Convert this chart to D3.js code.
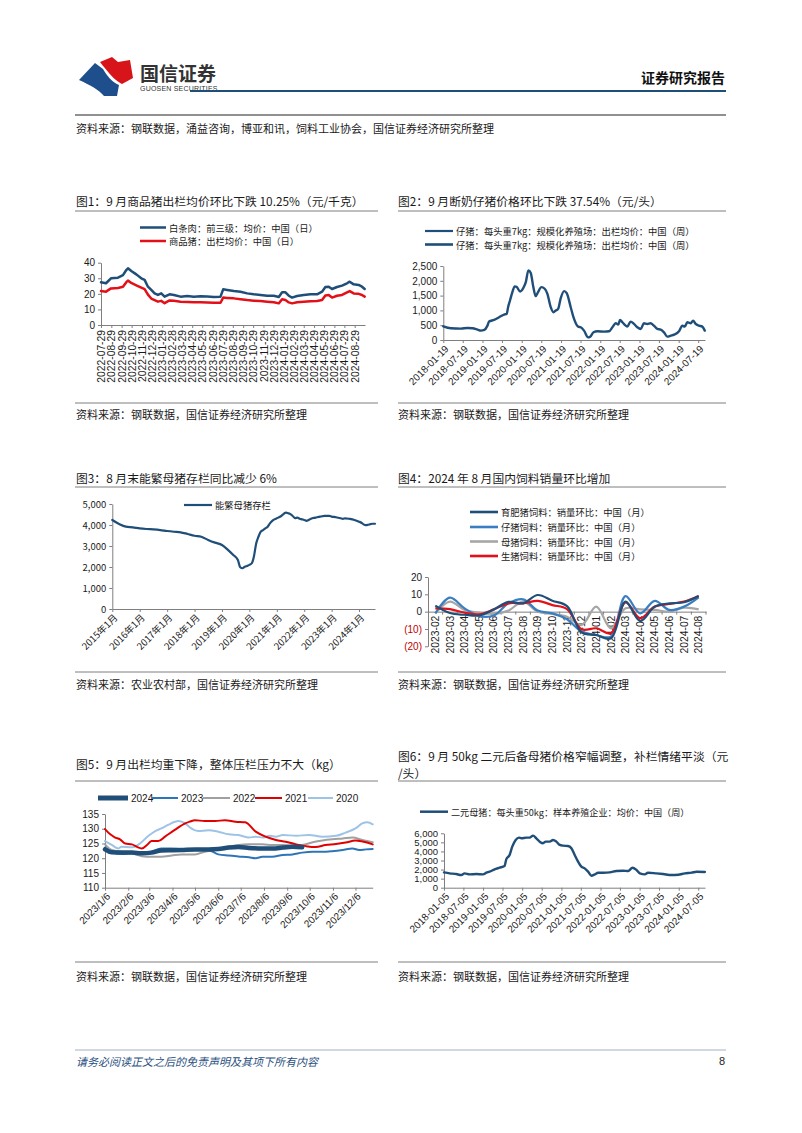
<!DOCTYPE html>
<html><head><meta charset="utf-8">
<script src="https://cdn.jsdelivr.net/npm/d3@7"></script>
<style>body{margin:0;background:#fff}svg{display:block}</style>
</head><body>
<svg id="page" width="802" height="1133"></svg>
<script>
// ---------- DATA ----------
// Chart 1: 白条肉 / 商品猪 (元/千克)
const c1Dates = ["2022-07-29","2022-08-13","2022-08-28","2022-09-18","2022-10-03","2022-10-13","2022-10-18","2022-10-28","2022-11-12","2022-11-27","2022-12-07","2022-12-17","2022-12-27","2023-01-06","2023-01-16","2023-01-26","2023-02-05","2023-02-20","2023-03-05","2023-03-25","2023-04-14","2023-05-04","2023-05-24","2023-06-13","2023-07-03","2023-07-23","2023-07-31","2023-08-12","2023-09-01","2023-09-21","2023-10-11","2023-10-31","2023-11-20","2023-12-10","2023-12-30","2024-01-14","2024-01-24","2024-02-03","2024-02-13","2024-02-23","2024-03-09","2024-03-29","2024-04-18","2024-05-08","2024-05-23","2024-06-02","2024-06-12","2024-06-22","2024-07-07","2024-07-22","2024-08-06","2024-08-14","2024-08-26","2024-09-10","2024-09-20","2024-09-28"];
const c1Pork = [27.4,26.8,30.0,30.4,32.0,35.3,36.4,34.7,32.5,30.0,29.0,24.6,22.5,20.3,19.3,20.3,18.2,19.7,19.3,18.2,18.6,18.2,18.4,18.3,18.0,18.2,22.9,22.5,21.8,21.4,20.3,19.7,19.3,18.8,18.8,18.0,21.0,21.0,18.8,17.6,18.6,19.3,19.7,19.7,21.4,24.4,24.6,23.1,24.4,25.3,26.8,27.8,26.1,25.7,24.6,23.1];
const c1Hog = [21.8,21.4,23.5,23.8,24.5,27.5,28.5,27.0,25.5,24.0,23.0,19.5,17.0,16.0,15.0,15.5,14.0,15.8,15.5,15.0,14.8,14.6,14.6,14.5,14.3,14.3,17.6,17.4,17.1,16.6,16.0,15.6,15.4,15.0,14.6,13.9,16.5,16.0,14.5,13.9,14.6,15.0,15.3,15.4,16.0,19.0,19.3,17.6,18.8,19.3,21.0,21.8,20.3,20.0,19.3,18.2];
const c1Ticks = ["2022-07-29","2022-08-29","2022-09-29","2022-10-29","2022-11-29","2022-12-29","2023-01-29","2023-02-28","2023-03-29","2023-04-29","2023-05-29","2023-06-29","2023-07-29","2023-08-29","2023-09-29","2023-10-29","2023-11-29","2023-12-29","2024-01-29","2024-02-29","2024-03-29","2024-04-29","2024-05-29","2024-06-29","2024-07-29","2024-08-29"];
const c1YTicks = [0,10,20,30,40];
const c1Legend = ["白条肉：前三级：均价：中国（日）","商品猪：出栏均价：中国（日）"];

// Chart 2: 仔猪 (元/头)
const c2Dates = ["2018-01-19","2018-03-30","2018-07-01","2018-09-01","2018-10-18","2018-12-04","2019-01-04","2019-02-04","2019-03-06","2019-03-21","2019-05-07","2019-06-22","2019-08-08","2019-09-01","2019-09-14","2019-10-02","2019-10-24","2019-11-15","2019-12-04","2020-01-04","2020-02-04","2020-02-26","2020-03-21","2020-04-12","2020-05-06","2020-05-28","2020-06-19","2020-07-20","2020-08-20","2020-09-14","2020-10-15","2020-11-09","2020-12-01","2020-12-23","2021-01-17","2021-02-17","2021-03-13","2021-04-19","2021-05-20","2021-06-27","2021-07-21","2021-08-21","2021-09-28","2021-10-17","2021-11-17","2021-12-24","2022-02-24","2022-04-11","2022-05-12","2022-06-12","2022-07-06","2022-07-22","2022-08-13","2022-09-13","2022-09-28","2022-10-29","2022-11-29","2022-12-30","2023-01-31","2023-03-01","2023-04-01","2023-05-02","2023-06-02","2023-07-04","2023-08-04","2023-09-04","2023-10-05","2023-11-06","2023-12-07","2024-01-22","2024-02-22","2024-03-15","2024-04-09","2024-05-10","2024-06-01","2024-06-25","2024-07-26","2024-08-26","2024-09-18"];
const c2Piglet = [464,396,385,407,396,350,317,340,486,622,679,769,860,882,1108,1335,1618,1810,1787,1640,1765,1957,2353,2262,1787,1482,1618,1787,1731,1561,1108,939,995,1052,1425,1652,1584,1108,713,452,430,317,90,113,260,294,283,294,430,566,520,679,600,486,452,622,543,430,373,566,543,566,486,373,350,260,113,147,181,294,486,452,600,566,656,543,486,452,317];
const c2Ticks = ["2018-01-19","2018-07-19","2019-01-19","2019-07-19","2020-01-19","2020-07-19","2021-01-19","2021-07-19","2022-01-19","2022-07-19","2023-01-19","2023-07-19","2024-01-19","2024-07-19"];
const c2YTicks = [0,500,1000,1500,2000,2500];
const c2Legend = ["仔猪：每头重7kg：规模化养殖场：出栏均价：中国（周）","仔猪：每头重7kg：规模化养殖场：出栏均价：中国（周）"];

// Chart 3: 能繁母猪存栏 (万头)
const c3Months = ["2015-01","2015-04","2015-07","2015-10","2016-01","2016-04","2016-07","2016-10","2017-01","2017-04","2017-07","2017-10","2018-01","2018-04","2018-07","2018-10","2019-01","2019-04","2019-06","2019-08","2019-09","2019-10","2019-11","2019-12","2020-01","2020-02","2020-03","2020-04","2020-05","2020-06","2020-07","2020-08","2020-09","2020-10","2020-11","2020-12","2021-01","2021-03","2021-05","2021-06","2021-07","2021-08","2021-09","2021-10","2021-11","2021-12","2022-01","2022-02","2022-03","2022-04","2022-06","2022-08","2022-10","2022-12","2023-01","2023-03","2023-05","2023-06","2023-07","2023-09","2023-11","2024-01","2024-02","2024-03","2024-04","2024-05","2024-06","2024-07","2024-08"];
const c3Sows = [4240,4050,3920,3890,3840,3810,3790,3760,3715,3680,3650,3570,3490,3440,3290,3160,3050,2780,2570,2330,1990,1940,2010,2050,2100,2170,2490,3120,3440,3680,3760,3840,3920,4080,4200,4270,4320,4430,4590,4560,4520,4430,4330,4350,4300,4270,4240,4200,4240,4300,4350,4400,4430,4430,4400,4370,4320,4290,4320,4290,4240,4160,4110,4030,3990,4010,4040,4060,4060];
const c3Ticks = ["2015-01","2016-01","2017-01","2018-01","2019-01","2020-01","2021-01","2022-01","2023-01","2024-01"];
const c3TickLabels = ["2015年1月","2016年1月","2017年1月","2018年1月","2019年1月","2020年1月","2021年1月","2022年1月","2023年1月","2024年1月"];
const c3YTicks = [0,1000,2000,3000,4000,5000];
const c3Legend = ["能繁母猪存栏"];

// Chart 4: 饲料销量环比 (%)
const c4Cats = ["2023-02","2023-03","2023-04","2023-05","2023-06","2023-07","2023-08","2023-09","2023-10","2023-11","2023-12","2024-01","2024-02","2024-03","2024-04","2024-05","2024-06","2024-07","2024-08"];
const c4Fatten = [3.5,-0.8,-1.8,-2.2,1.3,5.6,4.8,9.6,6.3,3.2,-12.0,-13.5,-15.4,5.8,-5.5,2.9,4.8,5.4,9.0];
const c4Piglet = [-1.0,8.1,1.9,-2.5,-2.2,4.8,7.1,0.6,-1.0,-4.4,-11.5,-13.5,-14.4,9.0,-1.0,6.2,1.0,2.9,8.3];
const c4Sow = [-1.0,5.8,1.0,-0.6,-1.3,0.6,5.8,0.0,-1.3,-2.9,-7.7,2.9,-9.6,1.9,1.3,1.0,0.0,2.3,1.3];
const c4Hog = [1.9,1.5,-0.6,-1.5,1.3,4.8,4.8,6.2,3.8,1.5,-10.2,-9.6,-12.5,5.4,-3.8,2.9,4.4,5.8,9.0];
const c4YTicks = [20,10,0,-10,-20];
const c4Legend = ["育肥猪饲料：销量环比：中国（月）","仔猪饲料：销量环比：中国（月）","母猪饲料：销量环比：中国（月）","生猪饲料：销量环比：中国（月）"];

// Chart 5: 出栏均重 (kg), x positions on a 2023 calendar
const c5Dates2024 = ["01-06","01-15","01-28","02-11","02-24","03-09","03-22","04-05","04-18","05-06","05-24","06-06","06-20","07-03","07-17","08-04","08-17","08-31","09-13","09-26"];
const c5Vals2024 = [123.0,122.0,121.9,121.9,121.7,121.9,122.6,122.7,122.8,123.0,123.0,123.1,123.6,123.8,123.5,123.3,123.3,123.6,123.9,123.7];
const c5Dates2023 = ["01-06","01-15","01-28","02-11","02-24","03-09","03-22","04-05","04-18","05-06","05-24","06-06","06-20","07-03","07-17","07-26","08-04","08-17","08-31","09-13","09-26","10-10","10-23","11-05","11-19","12-02","12-11","12-20","12-29"];
const c5Vals2023 = [123.6,122.2,121.4,121.7,121.7,122.2,123.3,123.3,123.1,123.1,122.8,121.3,120.9,120.6,120.3,120.0,120.5,120.5,121.1,121.3,121.9,122.2,122.2,122.4,122.8,123.3,122.8,123.0,123.1];
const c5Dates2022 = ["01-06","01-15","01-28","02-11","02-24","03-09","03-22","04-05","04-18","05-06","05-19","06-02","06-20","07-03","07-17","08-04","08-17","08-31","09-13","09-26","10-10","10-23","11-05","11-19","12-02","12-15","12-29"];
const c5Vals2022 = [124.7,122.8,122.2,121.7,120.7,120.5,120.5,120.9,121.3,121.3,122.2,122.8,123.9,124.5,124.7,124.7,124.5,124.5,124.3,124.5,125.4,126.0,126.4,126.7,127.0,126.2,125.4];
const c5Dates2021 = ["01-06","01-13","01-19","01-26","02-02","02-11","02-20","02-24","03-03","03-09","03-18","03-27","04-09","04-23","04-29","05-06","05-19","06-02","06-15","06-29","07-12","07-26","08-08","08-22","09-04","09-18","10-01","10-14","10-27","11-10","11-23","12-06","12-20","12-29"];
const c5Vals2021 = [129.9,128.1,127.1,126.4,125.0,124.7,123.6,123.3,124.5,125.8,125.8,127.3,129.6,131.8,132.4,132.9,132.6,132.6,132.9,132.4,132.2,129.0,127.3,126.2,125.6,124.7,124.1,123.8,124.5,124.8,125.3,126.0,125.4,124.7];
const c5Dates2020 = ["01-06","01-15","01-24","01-28","02-11","02-20","03-05","03-14","03-22","03-31","04-14","04-23","05-01","05-10","05-24","06-06","06-20","07-03","07-17","07-26","08-04","08-13","08-22","08-31","09-18","10-05","10-23","11-10","11-23","12-06","12-15","12-22","12-29"];
const c5Vals2020 = [125.8,124.5,123.3,123.9,123.7,124.7,127.6,129.2,130.1,131.3,132.6,131.8,130.1,129.2,129.5,129.0,128.1,127.9,127.0,127.3,127.0,127.6,127.3,127.9,127.6,127.9,127.3,127.6,128.7,130.1,131.8,132.2,131.5];
const c5Ticks = ["2023/1/6","2023/2/6","2023/3/6","2023/4/6","2023/5/6","2023/6/6","2023/7/6","2023/8/6","2023/9/6","2023/10/6","2023/11/6","2023/12/6"];
const c5YTicks = [110,115,120,125,130,135];
const c5Years = ["2024","2023","2022","2021","2020"];

// Chart 6: 二元母猪 (元/头)
const c6Dates = ["2018-01-05","2018-02-27","2018-04-29","2018-06-15","2018-07-16","2018-09-01","2018-11-03","2019-01-04","2019-02-05","2019-03-06","2019-04-22","2019-06-08","2019-07-24","2019-08-09","2019-09-09","2019-10-04","2019-11-05","2019-12-06","2019-12-28","2020-02-13","2020-03-14","2020-04-15","2020-05-16","2020-06-22","2020-07-17","2020-08-11","2020-09-18","2020-10-19","2020-11-19","2020-12-21","2021-01-21","2021-03-07","2021-04-08","2021-05-09","2021-06-09","2021-07-10","2021-08-10","2021-09-11","2021-10-12","2021-11-12","2021-12-14","2022-01-30","2022-04-01","2022-06-02","2022-08-04","2022-09-20","2022-10-30","2022-12-07","2023-01-07","2023-02-23","2023-03-24","2023-06-10","2023-08-12","2023-10-29","2023-12-31","2024-03-02","2024-05-04","2024-06-19","2024-09-05"];
const c6Gilt = [1693,1583,1509,1399,1583,1472,1509,1472,1656,1767,2024,2208,2392,3128,3607,4527,5263,5521,5447,5521,5521,5742,5447,5005,4895,5079,5079,5263,5079,4711,4637,4600,4343,3607,2871,2319,2135,1767,1325,1472,1656,1656,1693,1840,1877,1840,2208,1950,1583,1472,1656,1583,1509,1399,1435,1583,1656,1767,1730];
const c6Ticks = ["2018-01-05","2018-07-05","2019-01-05","2019-07-05","2020-01-05","2020-07-05","2021-01-05","2021-07-05","2022-01-05","2022-07-05","2023-01-05","2023-07-05","2024-01-05","2024-07-05"];
const c6YTicks = [0,1000,2000,3000,4000,5000,6000];
const c6Legend = ["二元母猪：每头重50kg：样本养殖企业：均价：中国（周）"];

// ---------- STYLE ----------
const CJK = "'Noto Sans CJK SC','Noto Sans',sans-serif";
const NUM = "'Liberation Sans',Arial,sans-serif";
const NAVY = "#1F4E79", RED = "#E3101A", AXIS = "#7f7f7f", INK = "#1a1a1a";
const svg = d3.select("#page");
const pd = d3.timeParse("%Y-%m-%d");
const pm = d3.timeParse("%Y-%m");

function txt(x, y, s, size, opts = {}) {
  const t = svg.append("text").attr("x", x).attr("y", y).text(s)
    .style("font-family", opts.font || CJK).style("font-size", size + "px")
    .style("font-weight", opts.weight || "normal").style("font-style", opts.style || "normal")
    .attr("fill", opts.fill || INK).attr("text-anchor", opts.anchor || "start")
    .attr("dominant-baseline", "central");
  if (opts.ls) t.style("letter-spacing", opts.ls + "px");
  return t;
}
function hline(x1, x2, y, color, w) {
  svg.append("line").attr("x1", x1).attr("x2", x2).attr("y1", y).attr("y2", y)
    .attr("stroke", color).attr("stroke-width", w);
}
function legend(x, y, len, color, w, label, size) {
  hline(x, x + len, y, color, w);
  txt(x + len + 3, y, label, size);
}
function styleAxis(g, size, font) {
  g.select(".domain").attr("stroke", AXIS);
  g.selectAll(".tick line").attr("stroke", AXIS);
  g.selectAll(".tick text").attr("fill", INK).style("font-family", font || NUM).style("font-size", size + "px");
}
function rot90(g) {
  g.selectAll(".tick text").attr("transform", "rotate(-90)").attr("x", -5).attr("y", 0)
    .attr("dy", "0.35em").attr("text-anchor", "end");
}
function rot45(g) {
  g.selectAll(".tick text").attr("x", 0).attr("y", 0).attr("dy", "0.35em")
    .attr("text-anchor", "end").attr("transform", "translate(3,7) rotate(-45)");
}
function drawLine(data, x, y, color, w, curve) {
  svg.append("path").datum(data).attr("fill", "none").attr("stroke", color).attr("stroke-width", w)
    .attr("stroke-linejoin", "round").attr("stroke-linecap", "round")
    .attr("d", d3.line().x(d => x(d[0])).y(d => y(d[1])).curve(curve || d3.curveLinear));
}

// ---------- HEADER ----------
svg.append("path").attr("d", "M79,80 L95,63 L103,69 C107,76 112,82 119,85 L117,96 L104,96 C98,89 90,85 79,80 Z").attr("fill", "#1F4E8C");
svg.append("path").attr("d", "M100,62 L112,57 L118,62 L130,60 L133,78 L122,84 C114,80 108,72 100,62 Z").attr("fill", "#D7141A");
txt(140, 72, "国信证券", 19, { weight: "bold", fill: "#333" });
txt(140, 88, "GUOSEN SECURITIES", 7, { font: NUM, fill: "#333", ls: 0.2 });
txt(725, 77, "证券研究报告", 14, { weight: "bold", anchor: "end", fill: "#111" });
hline(190, 726, 91, NAVY, 2);
hline(75, 726, 115, "#222", 1);
txt(76, 128, "资料来源：钢联数据，涌益咨询，博亚和讯，饲料工业协会，国信证券经济研究所整理", 11);

// ---------- SECTION FRAMES ----------
const TS = 11.8;
txt(76, 200, "图1：9 月商品猪出栏均价环比下跌 10.25%（元/千克）", TS);
txt(398, 200, "图2：9 月断奶仔猪价格环比下跌 37.54%（元/头）", TS);
hline(75, 378, 211, AXIS, 1); hline(398, 726, 211, AXIS, 1);
hline(75, 378, 403, AXIS, 1); hline(398, 726, 403, AXIS, 1);
txt(76, 414, "资料来源：钢联数据，国信证券经济研究所整理", 11);
txt(398, 414, "资料来源：钢联数据，国信证券经济研究所整理", 11);

txt(76, 477, "图3：8 月末能繁母猪存栏同比减少 6%", TS);
txt(398, 477, "图4：2024 年 8 月国内饲料销量环比增加", TS);
hline(75, 378, 487, AXIS, 1); hline(398, 726, 487, AXIS, 1);
hline(75, 378, 672, AXIS, 1); hline(398, 726, 672, AXIS, 1);
txt(76, 684, "资料来源：农业农村部，国信证券经济研究所整理", 11);
txt(398, 684, "资料来源：钢联数据，国信证券经济研究所整理", 11);

txt(76, 763, "图5：9 月出栏均重下降，整体压栏压力不大（kg）", TS);
txt(398, 755, "图6：9 月 50kg 二元后备母猪价格窄幅调整，补栏情绪平淡（元", TS);
txt(398, 772, "/头）", TS);
hline(75, 378, 781, AXIS, 1); hline(398, 726, 781, AXIS, 1);
hline(75, 378, 962, AXIS, 1); hline(398, 726, 962, AXIS, 1);
txt(76, 976, "资料来源：钢联数据，国信证券经济研究所整理", 11);
txt(398, 976, "资料来源：钢联数据，国信证券经济研究所整理", 11);

// ---------- FOOTER ----------
hline(75, 726, 1050, "#9fb3c8", 1);
txt(76, 1061, "请务必阅读正文之后的免责声明及其项下所有内容", 11, { style: "italic", fill: "#2a4f80" });
txt(725, 1061, "8", 11, { anchor: "end", font: NUM, fill: "#222" });

// ---------- CHART 1 ----------
{
  const x = d3.scaleTime().domain([pd("2022-07-29"), pd("2024-09-29")]).range([101, 365]);
  const y = d3.scaleLinear().domain([0, 40]).range([325, 262.7]);
  const gy = svg.append("g").attr("transform", "translate(101,0)")
    .call(d3.axisLeft(y).tickValues(c1YTicks).tickSize(3).tickSizeOuter(0));
  styleAxis(gy, 10);
  const gx = svg.append("g").attr("transform", "translate(0,325)")
    .call(d3.axisBottom(x).tickValues(c1Ticks.map(pd)).tickFormat((d, i) => c1Ticks[i]).tickSize(3).tickSizeOuter(0));
  styleAxis(gx, 10.3); rot90(gx);
  const a = c1Dates.map((d, i) => [pd(d), c1Pork[i]]);
  const b = c1Dates.map((d, i) => [pd(d), c1Hog[i]]);
  drawLine(b, x, y, RED, 2.5);
  drawLine(a, x, y, NAVY, 2.5);
  legend(140, 227.5, 26, NAVY, 2.5, c1Legend[0], 9.3);
  legend(140, 241, 26, RED, 2.5, c1Legend[1], 9.3);
}

// ---------- CHART 2 ----------
{
  const x = d3.scaleTime().domain([pd("2018-01-19"), pd("2024-09-20")]).range([443.3, 705]);
  const y = d3.scaleLinear().domain([0, 2500]).range([340, 266]);
  const gy = svg.append("g").attr("transform", "translate(443.3,0)")
    .call(d3.axisLeft(y).tickValues(c2YTicks).tickFormat(d3.format(",")).tickSize(3).tickSizeOuter(0));
  styleAxis(gy, 10);
  const gx = svg.append("g").attr("transform", "translate(0,340)")
    .call(d3.axisBottom(x).tickValues(c2Ticks.map(pd)).tickFormat((d, i) => c2Ticks[i]).tickSize(3).tickSizeOuter(0));
  styleAxis(gx, 10); rot45(gx);
  drawLine(c2Dates.map((d, i) => [pd(d), c2Piglet[i]]), x, y, NAVY, 2.4, d3.curveMonotoneX);
  legend(425, 231, 28, NAVY, 2.2, c2Legend[0], 9.3);
  legend(425, 244.5, 28, NAVY, 2.6, c2Legend[1], 9.3);
}

// ---------- CHART 3 ----------
{
  const x = d3.scaleTime().domain([pm("2015-01"), pm("2024-08")]).range([112.3, 375]);
  const y = d3.scaleLinear().domain([0, 5000]).range([609, 504]);
  const gy = svg.append("g").attr("transform", "translate(112.3,0)")
    .call(d3.axisLeft(y).tickValues(c3YTicks).tickFormat(d3.format(",")).tickSize(3).tickSizeOuter(0));
  styleAxis(gy, 9.5, CJK);
  const gx = svg.append("g").attr("transform", "translate(0,609)")
    .call(d3.axisBottom(x).tickValues(c3Ticks.map(pm)).tickFormat((d, i) => c3TickLabels[i]).tickSize(3).tickSizeOuter(0));
  styleAxis(gx, 9.5, CJK); rot45(gx);
  drawLine(c3Months.map((d, i) => [pm(d), c3Sows[i]]), x, y, NAVY, 2.2, d3.curveMonotoneX);
  legend(184, 505, 28, NAVY, 2.2, c3Legend[0], 9.3);
}

// ---------- CHART 4 ----------
{
  const x = d3.scaleBand().domain(c4Cats).range([428, 706]);
  const y = d3.scaleLinear().domain([-20, 20]).range([646.3, 577]);
  const gy = svg.append("g").attr("transform", "translate(428,0)")
    .call(d3.axisLeft(y).tickValues(c4YTicks).tickFormat(d => d < 0 ? "(" + (-d) + ")" : d).tickSize(3).tickSizeOuter(0));
  styleAxis(gy, 10);
  gy.selectAll(".tick text").attr("fill", d => d < 0 ? "#C00000" : INK);
  const gx = svg.append("g").attr("transform", "translate(0," + y(0) + ")")
    .call(d3.axisBottom(x).tickSize(0).tickSizeOuter(0));
  styleAxis(gx, 10.3); rot90(gx);
  gx.selectAll(".tick text").attr("x", -4);
  gx.selectAll(".bt").data(c4Cats).enter().append("line").attr("class", "bt")
    .attr("x1", d => x(d) + x.bandwidth()).attr("x2", d => x(d) + x.bandwidth())
    .attr("y1", 0).attr("y2", 3).attr("stroke", AXIS);
  const cx = d => x(d) + x.bandwidth() / 2;
  const series = [[c4Sow, "#A6A6A6"], [c4Piglet, "#3A7EC1"], [c4Hog, RED], [c4Fatten, NAVY]];
  series.forEach(([vals, col]) => {
    svg.append("path").datum(c4Cats.map((c, i) => [c, vals[i]])).attr("fill", "none")
      .attr("stroke", col).attr("stroke-width", 2.2)
      .attr("d", d3.line().x(d => cx(d[0])).y(d => y(d[1])).curve(d3.curveCatmullRom.alpha(0.5)));
  });
  const cols = [NAVY, "#3A7EC1", "#A6A6A6", RED];
  const ys = [512, 527, 541.5, 556];
  c4Legend.forEach((l, i) => legend(470, ys[i], 28, cols[i], 2.6, l, 9.3));
}

// ---------- CHART 5 ----------
{
  const p5 = s => pd("2023-" + s);
  const x = d3.scaleTime().domain([pd("2023-01-06"), pd("2023-12-29")]).range([105, 372.7]);
  const y = d3.scaleLinear().domain([110, 135]).range([887.7, 814]);
  const gy = svg.append("g").attr("transform", "translate(105,0)")
    .call(d3.axisLeft(y).tickValues(c5YTicks).tickSize(3).tickSizeOuter(0));
  styleAxis(gy, 10);
  const tickDates = c5Ticks.map(s => d3.timeParse("%Y/%-m/%-d")(s));
  const gx = svg.append("g").attr("transform", "translate(0,887.7)")
    .call(d3.axisBottom(x).tickValues(tickDates).tickFormat((d, i) => c5Ticks[i]).tickSize(3).tickSizeOuter(0));
  styleAxis(gx, 10); rot45(gx);
  const sets = [
    [c5Dates2020, c5Vals2020, "#9DC3E6", 2],
    [c5Dates2022, c5Vals2022, "#A0A0A0", 2],
    [c5Dates2021, c5Vals2021, "#E00000", 2],
    [c5Dates2023, c5Vals2023, "#2E75B6", 2],
    [c5Dates2024, c5Vals2024, NAVY, 4.5]
  ];
  sets.forEach(([ds, vs, col, w]) => drawLine(ds.map((d, i) => [p5(d), vs[i]]), x, y, col, w, d3.curveMonotoneX));
  const lg = [[98, 128, NAVY, 5], [152, 178, "#2E75B6", 2], [203, 230, "#A0A0A0", 2], [255, 282, "#E00000", 2], [308, 333, "#9DC3E6", 2]];
  lg.forEach(([a, b, col, w], i) => {
    hline(a, b, 798, col, w);
    txt(b + 3, 798, c5Years[i], 10, { font: NUM });
  });
}

// ---------- CHART 6 ----------
{
  const x = d3.scaleTime().domain([pd("2018-01-05"), pd("2024-09-06")]).range([444, 705]);
  const y = d3.scaleLinear().domain([0, 6000]).range([887.7, 833.3]);
  const gy = svg.append("g").attr("transform", "translate(444,0)")
    .call(d3.axisLeft(y).tickValues(c6YTicks).tickFormat(d3.format(",")).tickSize(3).tickSizeOuter(0));
  styleAxis(gy, 9.5);
  const gx = svg.append("g").attr("transform", "translate(0,887.7)")
    .call(d3.axisBottom(x).tickValues(c6Ticks.map(pd)).tickFormat((d, i) => c6Ticks[i]).tickSize(3).tickSizeOuter(0));
  styleAxis(gx, 10); rot45(gx);
  drawLine(c6Dates.map((d, i) => [pd(d), c6Gilt[i]]), x, y, NAVY, 2.4, d3.curveMonotoneX);
  legend(420, 811.7, 28, NAVY, 2.5, c6Legend[0], 9.1);
}
</script>
</body></html>
